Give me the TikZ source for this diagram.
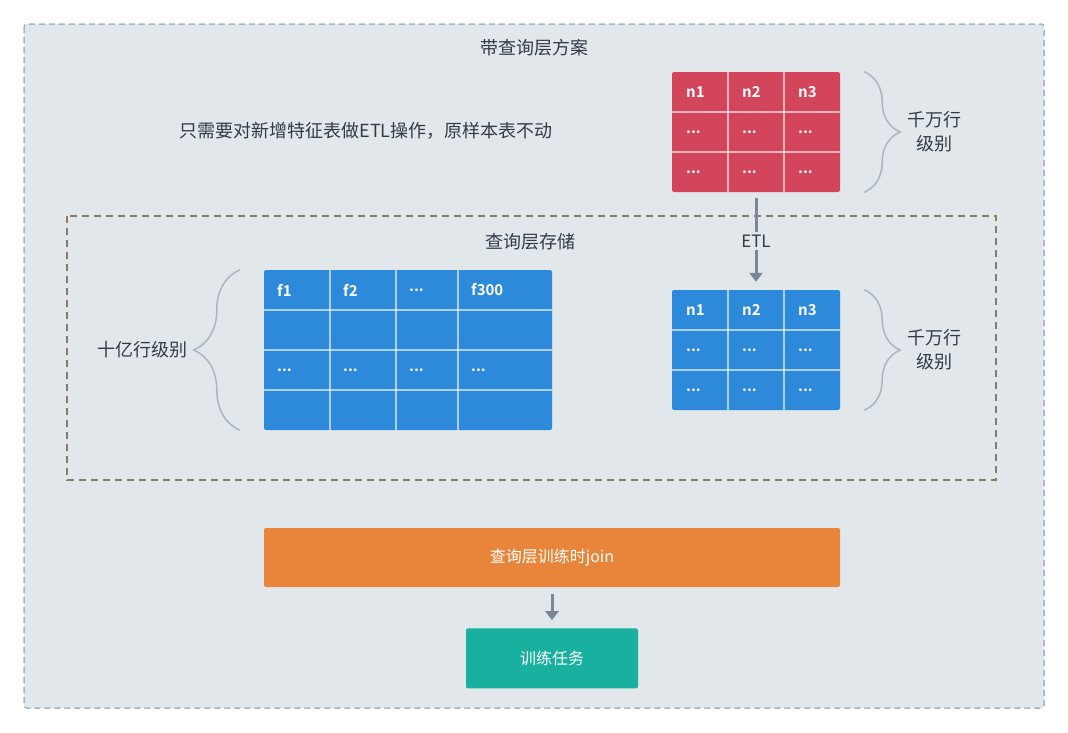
\documentclass[tikz,border=0pt]{standalone}
\usepackage{fontspec}
\setmainfont{Noto Sans CJK SC}[BoldFont={Noto Sans CJK SC Bold}]
\usepackage{xcolor}
\usetikzlibrary{arrows.meta,positioning,decorations.pathreplacing}
\definecolor{panelbg}{HTML}{E2E7EC}
\definecolor{panelline}{HTML}{A6B4C1}
\definecolor{storeline}{HTML}{8C7B64}
\definecolor{tablered}{HTML}{D2455A}
\definecolor{tableblue}{HTML}{2D89D9}
\definecolor{joinorange}{HTML}{E8853A}
\definecolor{taskteal}{HTML}{1AB09F}
\definecolor{arrowgray}{HTML}{7A8896}
\definecolor{braceline}{HTML}{A9B6C2}
\definecolor{labeltext}{HTML}{313B46}
\newcommand{\celldots}{...}
\tikzset{
  outerframe/.style={draw=panelline,fill=panelbg,line width=1.5pt,dash pattern=on 6pt off 4pt,rounded corners=3pt},
  innerframe/.style={draw=storeline,line width=1.5pt,dash pattern=on 7pt off 5pt},
  caption/.style={text=labeltext,font=\fontsize{18}{24}\selectfont,inner sep=0pt},
  sizelabel/.style={caption,align=center},
  tablebox/.style={rectangle,rounded corners=2pt,inner sep=0pt},
  gridline/.style={draw=white,draw opacity=0.6,line width=1.5pt},
  headtext/.style={anchor=west,text=white,font=\bfseries\fontsize{15}{18}\selectfont,inner sep=0pt},
  celltext/.style={anchor=west,text=white,font=\bfseries\fontsize{15}{18}\selectfont,inner sep=0pt},
  bar/.style={rectangle,rounded corners=2pt,text=white,font=\fontsize{16}{20}\selectfont},
  flow/.style={draw=arrowgray,line width=3pt,-{Triangle[width=13pt,length=9pt]}},
  etllabel/.style={fill=panelbg,text=labeltext,font=\fontsize{17}{20}\selectfont,inner sep=3pt},
  bracket/.style={draw=braceline,line width=1.5pt,decorate}
}
\begin{document}
\begin{tikzpicture}[x=1pt,y=-1pt]
  \useasboundingbox[fill=white] (0,0) rectangle (1068,732);
  \draw[outerframe] (24,24) rectangle (1044,708);
  \node[caption] (plan) at (534,48) {带查询层方案};
  \node[caption] (hint) at (366,131) {只需要对新增特征表做ETL操作，原样本表不动};
  \draw[innerframe] (67,216) rectangle (996,480);
  \node[caption] (storage) at (530,242) {查询层存储};

  \node[tablebox,fill=tablered,minimum width=168pt,minimum height=120pt] (newfeat) at (756,132) {};
  \foreach \x in {728,784} \draw[gridline] (\x,72) -- (\x,192);
  \foreach \y in {112,152} \draw[gridline] (672,\y) -- (840,\y);
  \foreach \x [count=\i] in {686,742,798}{
    \node[headtext] (newfeat-h\i) at (\x,92) {n\i};
    \node[celltext] (newfeat-a\i) at (\x,132) {\celldots};
    \node[celltext] (newfeat-b\i) at (\x,172) {\celldots};
  }
  \draw[bracket,decoration={brace,amplitude=36pt}] ([xshift=24pt]newfeat.north east) -- ([xshift=24pt]newfeat.south east);
  \node[sizelabel] (newfeat-size) at (934,132) {千万行\\级别};

  \node[tablebox,fill=tableblue,minimum width=168pt,minimum height=120pt] (newcopy) at (756,350) {};
  \foreach \x in {728,784} \draw[gridline] (\x,290) -- (\x,410);
  \foreach \y in {330,370} \draw[gridline] (672,\y) -- (840,\y);
  \foreach \x [count=\i] in {686,742,798}{
    \node[headtext] (newcopy-h\i) at (\x,310) {n\i};
    \node[celltext] (newcopy-a\i) at (\x,350) {\celldots};
    \node[celltext] (newcopy-b\i) at (\x,390) {\celldots};
  }
  \draw[bracket,decoration={brace,amplitude=36pt}] ([xshift=24pt]newcopy.north east) -- ([xshift=24pt]newcopy.south east);
  \node[sizelabel] (newcopy-size) at (934,350) {千万行\\级别};

  \draw[flow,shorten <=6pt,shorten >=8pt] (newfeat) -- node[etllabel] (etl) {ETL} (newcopy);

  \node[tablebox,fill=tableblue,minimum width=288pt,minimum height=160pt] (samples) at (408,350) {};
  \foreach \x in {330,396,458} \draw[gridline] (\x,270) -- (\x,430);
  \foreach \y in {310,350,390} \draw[gridline] (264,\y) -- (552,\y);
  \foreach \x/\t [count=\i] in {277/f1,343/f2,409/\celldots,471/f300}{
    \node[headtext] (samples-h\i) at (\x,290) {\t};
    \node[celltext] (samples-c\i) at (\x,370) {\celldots};
  }
  \draw[bracket,decoration={brace,amplitude=46pt}] ([xshift=-24pt]samples.south west) -- ([xshift=-24pt]samples.north west);
  \node[caption] (samples-size) at (142,350) {十亿行级别};

  \node[bar,fill=joinorange,minimum width=576pt,minimum height=59pt] (join) at (552,557.5) {查询层训练时join};
  \node[bar,fill=taskteal,minimum width=172pt,minimum height=60pt,below=41pt of join] (task) {训练任务};
  \draw[flow,shorten <=7pt,shorten >=8pt] (join) -- (task);
\end{tikzpicture}
\end{document}
